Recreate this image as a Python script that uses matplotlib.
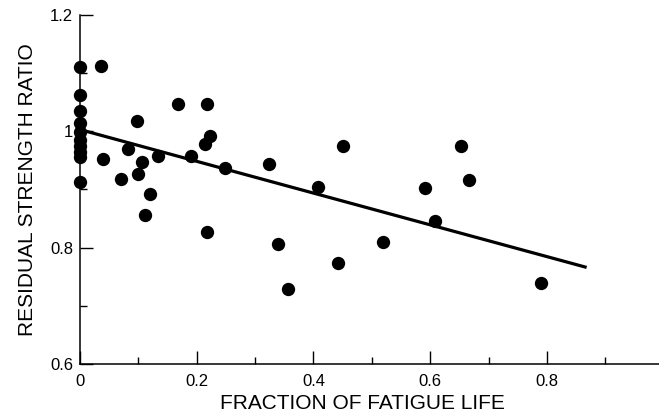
import numpy as np
import matplotlib
matplotlib.use("Agg")
import matplotlib.pyplot as plt
from matplotlib.ticker import FixedLocator

# fraction of fatigue life at which each coupon was pulled, and its residual strength ratio
fraction_life = [
    0.0, 0.0, 0.0, 0.0, 0.0, 0.0, 0.0, 0.0, 0.0, 0.0,
    0.036, 0.040, 0.071, 0.083, 0.097, 0.100, 0.106, 0.111, 0.120, 0.134,
    0.168, 0.191, 0.214, 0.218, 0.218, 0.223, 0.249, 0.324, 0.339, 0.356,
    0.407, 0.442, 0.451, 0.519, 0.591, 0.608, 0.652, 0.666, 0.790,
]
strength_ratio = [
    1.110, 1.062, 1.035, 1.015, 0.998, 0.985, 0.975, 0.965, 0.955, 0.913,
    1.113, 0.952, 0.918, 0.969, 1.018, 0.926, 0.948, 0.856, 0.893, 0.958,
    1.047, 0.958, 0.979, 1.047, 0.827, 0.992, 0.937, 0.943, 0.807, 0.729,
    0.905, 0.773, 0.975, 0.810, 0.903, 0.846, 0.975, 0.916, 0.740,
]

# linear trend line
fit_intercept = 1.003
fit_slope = -0.273
fit_range = [0.0, 0.868]

x_ticks = [0, 0.2, 0.4, 0.6, 0.8]
x_tick_labels = ["0", "0.2", "0.4", "0.6", "0.8"]
y_ticks = [0.6, 0.8, 1.0, 1.2]
y_tick_labels = ["0.6", "0.8", "1", "1.2"]

plt.rcParams["font.family"] = ["Liberation Sans", "DejaVu Sans"]

fig = plt.figure(figsize=(6.59, 4.15), dpi=100)
ax = fig.add_axes([0.1214, 0.1229, 0.8786, 0.8410])

ax.scatter(fraction_life, strength_ratio, s=92, color="black", zorder=3,
           clip_on=False, linewidths=0)

fx = np.array(fit_range)
ax.plot(fx, fit_intercept + fit_slope * fx, color="black", lw=2.3,
        solid_capstyle="butt", zorder=2)

ax.set_xlim(0, 0.992)
ax.set_ylim(0.6, 1.2)

ax.xaxis.set_major_locator(FixedLocator(x_ticks))
ax.set_xticklabels(x_tick_labels)
ax.xaxis.set_minor_locator(FixedLocator([0.1, 0.3, 0.5, 0.7, 0.9]))
ax.yaxis.set_major_locator(FixedLocator(y_ticks))
ax.set_yticklabels(y_tick_labels)
ax.yaxis.set_minor_locator(FixedLocator([0.7, 0.9, 1.1]))

ax.tick_params(which="major", direction="in", length=9.2, width=1.0,
               labelsize=12)
ax.tick_params(which="minor", direction="in", length=5.0, width=1.0)
ax.tick_params(axis="x", which="major", pad=7)
ax.tick_params(axis="y", which="major", pad=5)

for side in ("top", "right"):
    ax.spines[side].set_visible(False)
for side in ("left", "bottom"):
    ax.spines[side].set_linewidth(1.1)

ax.set_xlabel("FRACTION OF FATIGUE LIFE", fontsize=15, labelpad=4)
ax.xaxis.set_label_coords(0.487, -0.085)
ax.set_ylabel("RESIDUAL STRENGTH RATIO", fontsize=15, labelpad=9)

fig.savefig("out.png", dpi=100)
